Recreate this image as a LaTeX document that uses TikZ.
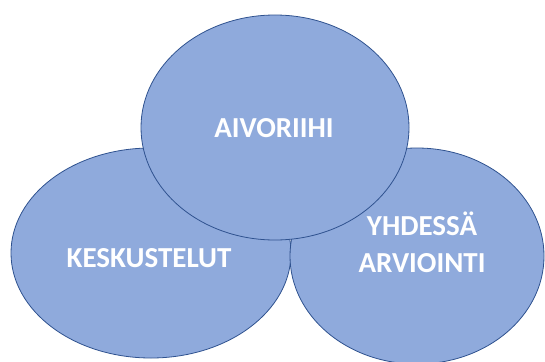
\documentclass[tikz,border=0pt]{standalone}
\usepackage{fontspec}
\setmainfont{Carlito}
\definecolor{bubblefill}{RGB}{143,170,220}
\definecolor{bubbleline}{RGB}{47,82,143}
\begin{document}
\begin{tikzpicture}[x=1pt,y=-1pt,
  bubble/.style={fill=bubblefill,draw=bubbleline,line width=0.8pt},
  label/.style={text=white,font=\bfseries\fontsize{29}{37}\selectfont,align=center,inner sep=0pt}]
\useasboundingbox (0,0) rectangle (545,361);
\clip (0,0) rectangle (545,361);
% lower pair of ellipses
\draw[bubble] (151,253) ellipse [x radius=140,y radius=105];
\draw[bubble] (417,256) ellipse [x radius=127,y radius=108];
% upper ellipse on top
\draw[bubble] (275,127.5) ellipse [x radius=134,y radius=112.5];
\node[label] (keskustelut) at (149,258) {KESKUSTELUT};
\node[label] (aivoriihi) at (274,128) {AIVORIIHI};
\node[label] (arviointi) at (422,242) {YHDESSÄ\\ARVIOINTI};
\end{tikzpicture}
\end{document}
